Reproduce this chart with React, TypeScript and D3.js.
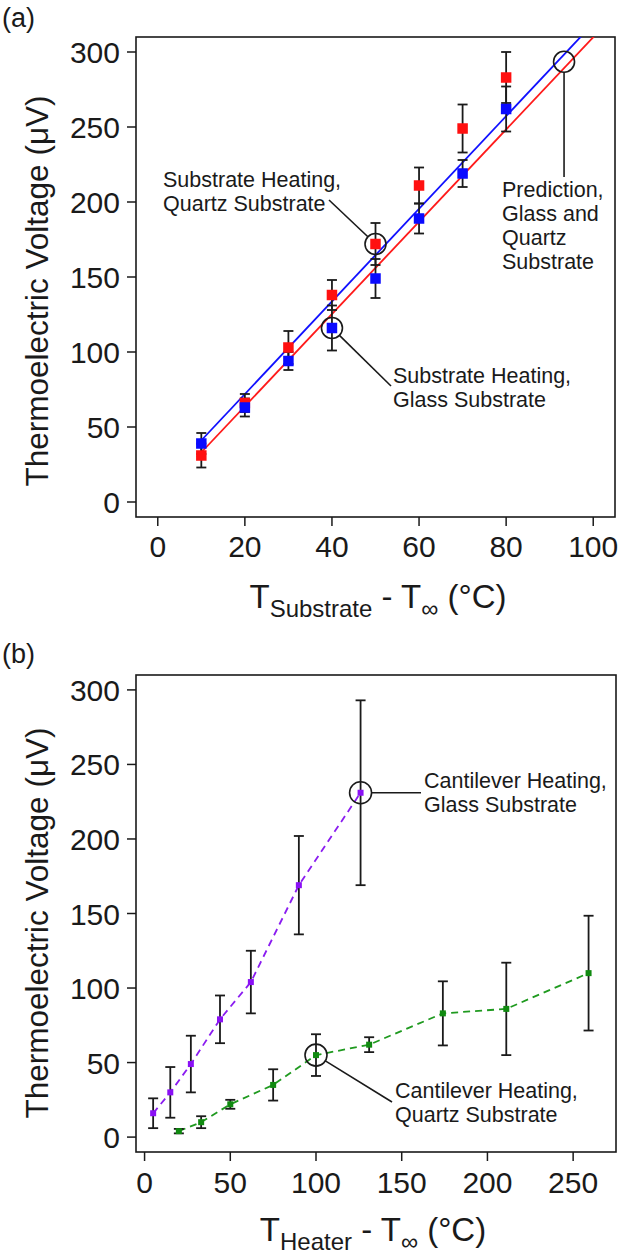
import React from "react";
import * as d3 from "d3";

// panel (a): substrate heating
const substrateTemps = [10, 20, 30, 40, 50, 60, 70, 80];
const quartzVolts = [31, 66, 103, 138, 172, 211, 249, 283];
const quartzErr = [8, 6, 11, 10, 14, 12, 16, 17];
const glassVolts = [39, 63, 94, 116, 149, 189, 219, 262];
const glassErr = [7, 6, 6, 15, 13, 10, 9, 15];
// prediction lines (end points)
const glassFitT = [9, 100];
const glassFitV = [38, 319];
const quartzFitT = [9, 102];
const quartzFitV = [30, 316];
const predictionPoint = [93.3, 293.5];

// panel (b): cantilever heating
const heaterTempsGlass = [5, 15, 27, 44, 62, 90, 126];
const cantGlassVolts = [16, 30, 49, 79, 104, 169, 231];
const cantGlassErr = [10, 17, 19, 16, 21, 33, 62];
const heaterTempsQuartz = [20, 33, 50, 75, 100, 131, 174, 211, 259];
const cantQuartzVolts = [4, 10, 22, 35, 55, 62, 83, 86, 110];
const cantQuartzErr = [1.5, 4, 3, 10.5, 14, 5, 21.5, 31, 38.5];

const yTicks = [0, 50, 100, 150, 200, 250, 300];
const xTicksA = [0, 20, 40, 60, 80, 100];
const xTicksB = [0, 50, 100, 150, 200, 250];

const FONT = "'Liberation Sans', Arial, sans-serif";
const INK = "#1a1a1a";

const xA = d3.scaleLinear().domain([-5, 105]).range([136, 615]);
const yA = d3.scaleLinear().domain([-10, 310]).range([517, 37]);
const xB = d3.scaleLinear().domain([-5, 275]).range([136, 616]);
const yB = d3.scaleLinear().domain([-10, 310]).range([1152, 675]);

const Frame = ({ x, y, xTicks, labelY }) => {
  const [x0, x1] = x.range();
  const [y0, y1] = y.range();
  return (
    <g>
      <rect x={x0} y={y1} width={x1 - x0} height={y0 - y1} fill="none" stroke={INK} strokeWidth={1.6} />
      {yTicks.map((t) => (
        <g key={"y" + t}>
          <line x1={x0 - 9} x2={x0} y1={y(t)} y2={y(t)} stroke={INK} strokeWidth={1.5} />
          <text x={x0 - 16} y={y(t) + 11} textAnchor="end" fontSize={30} fill={INK}>{t}</text>
        </g>
      ))}
      {xTicks.map((t) => (
        <g key={"x" + t}>
          <line x1={x(t)} x2={x(t)} y1={y0} y2={y0 + 9} stroke={INK} strokeWidth={1.5} />
          <text x={x(t)} y={labelY} textAnchor="middle" fontSize={30} fill={INK}>{t}</text>
        </g>
      ))}
    </g>
  );
};

const ErrorBars = ({ ts, vs, es, x, y, cap }) => (
  <g stroke={INK} strokeWidth={1.8}>
    {ts.map((t, i) => (
      <g key={i}>
        <line x1={x(t)} x2={x(t)} y1={y(vs[i] - es[i])} y2={y(vs[i] + es[i])} />
        <line x1={x(t) - cap} x2={x(t) + cap} y1={y(vs[i] - es[i])} y2={y(vs[i] - es[i])} />
        <line x1={x(t) - cap} x2={x(t) + cap} y1={y(vs[i] + es[i])} y2={y(vs[i] + es[i])} />
      </g>
    ))}
  </g>
);

const Squares = ({ ts, vs, x, y, size, color }) => (
  <g fill={color}>
    {ts.map((t, i) => (
      <rect key={i} x={x(t) - size / 2} y={y(vs[i]) - size / 2} width={size} height={size} />
    ))}
  </g>
);

// circle around a point, leader line to the label
const Callout = ({ cx, cy, r, ex, ey, lines, tx, ty }) => {
  const d = Math.hypot(ex - cx, ey - cy);
  const sx = cx + ((ex - cx) / d) * r;
  const sy = cy + ((ey - cy) / d) * r;
  return (
    <g>
      <circle cx={cx} cy={cy} r={r} fill="none" stroke={INK} strokeWidth={1.6} />
      <line x1={sx} y1={sy} x2={ex} y2={ey} stroke={INK} strokeWidth={1.6} />
      {lines.map((s, i) => (
        <text key={i} x={tx} y={ty + i * 24} fontSize={21.5} fill={INK}>{s}</text>
      ))}
    </g>
  );
};

const XTitle = ({ x, y, sub }) => (
  <text x={x} y={y} textAnchor="middle" fontSize={33} fill={INK}>
    T<tspan fontSize={24} dy={9}>{sub}</tspan>
    <tspan dy={-9}> - T</tspan>
    <tspan fontSize={24} dy={9}>∞</tspan>
    <tspan dy={-9}> (°C)</tspan>
  </text>
);

const YTitle = ({ cy }) => (
  <text transform={`translate(48,${cy}) rotate(-90)`} textAnchor="middle" fontSize={31.5} fill={INK}>
    Thermoelectric Voltage (μV)
  </text>
);

export default function App() {
  const glassPath = d3.line<number>().x((t) => xA(t)).y((t, i) => yA(glassFitV[i]))(glassFitT);
  const quartzPath = d3.line<number>().x((t) => xA(t)).y((t, i) => yA(quartzFitV[i]))(quartzFitT);
  const purplePath = d3.line<number>().x((t) => xB(t)).y((t, i) => yB(cantGlassVolts[i]))(heaterTempsGlass);
  const greenPath = d3.line<number>().x((t) => xB(t)).y((t, i) => yB(cantQuartzVolts[i]))(heaterTempsQuartz);

  return (
    <svg width={633} height={1257} style={{ position: "absolute", left: 0, top: 0, background: "#fff" }} fontFamily={FONT}>
      <defs>
        <clipPath id="clipA">
          <rect x={136} y={37} width={479} height={480} />
        </clipPath>
      </defs>

      {/* (a) */}
      <text x={2} y={27} fontSize={27} fill={INK}>(a)</text>
      <Frame x={xA} y={yA} xTicks={xTicksA} labelY={557} />
      <YTitle cy={291} />
      <XTitle x={378} y={608} sub="Substrate" />
      <g clipPath="url(#clipA)" fill="none" strokeWidth={1.8}>
        <path d={glassPath} stroke="#1010ff" />
        <path d={quartzPath} stroke="#ff1a1a" />
      </g>
      <ErrorBars ts={substrateTemps} vs={quartzVolts} es={quartzErr} x={xA} y={yA} cap={5} />
      <ErrorBars ts={substrateTemps} vs={glassVolts} es={glassErr} x={xA} y={yA} cap={5} />
      <Squares ts={substrateTemps} vs={quartzVolts} x={xA} y={yA} size={10.5} color="#ff1010" />
      <Squares ts={substrateTemps} vs={glassVolts} x={xA} y={yA} size={10.5} color="#0a0aff" />
      <Callout cx={xA(50)} cy={yA(172)} r={10.5} ex={329} ey={200}
        lines={["Substrate Heating,", "Quartz Substrate"]} tx={163} ty={187} />
      <Callout cx={xA(40)} cy={yA(116)} r={10.5} ex={391} ey={386}
        lines={["Substrate Heating,", "Glass Substrate"]} tx={393} ty={383} />
      <Callout cx={xA(predictionPoint[0])} cy={yA(predictionPoint[1])} r={10.5} ex={xA(predictionPoint[0])} ey={177}
        lines={["Prediction,", "Glass and", "Quartz", "Substrate"]} tx={502} ty={197} />

      {/* (b) */}
      <text x={2} y={663} fontSize={27} fill={INK}>(b)</text>
      <Frame x={xB} y={yB} xTicks={xTicksB} labelY={1193} />
      <YTitle cy={923} />
      <XTitle x={373} y={1241} sub="Heater" />
      <g fill="none" strokeWidth={1.8} strokeDasharray="7 5">
        <path d={purplePath} stroke="#8a1cf0" />
        <path d={greenPath} stroke="#1f9a1f" />
      </g>
      <ErrorBars ts={heaterTempsGlass} vs={cantGlassVolts} es={cantGlassErr} x={xB} y={yB} cap={5} />
      <ErrorBars ts={heaterTempsQuartz} vs={cantQuartzVolts} es={cantQuartzErr} x={xB} y={yB} cap={5} />
      <Squares ts={heaterTempsGlass} vs={cantGlassVolts} x={xB} y={yB} size={6} color="#8a10f5" />
      <Squares ts={heaterTempsQuartz} vs={cantQuartzVolts} x={xB} y={yB} size={6} color="#108a10" />
      <Callout cx={xB(126)} cy={yB(231)} r={11} ex={421} ey={yB(231)}
        lines={["Cantilever Heating,", "Glass Substrate"]} tx={424} ty={788} />
      <Callout cx={xB(100)} cy={yB(55)} r={11} ex={392} ey={1102}
        lines={["Cantilever Heating,", "Quartz Substrate"]} tx={395} ty={1098} />
    </svg>
  );
}
